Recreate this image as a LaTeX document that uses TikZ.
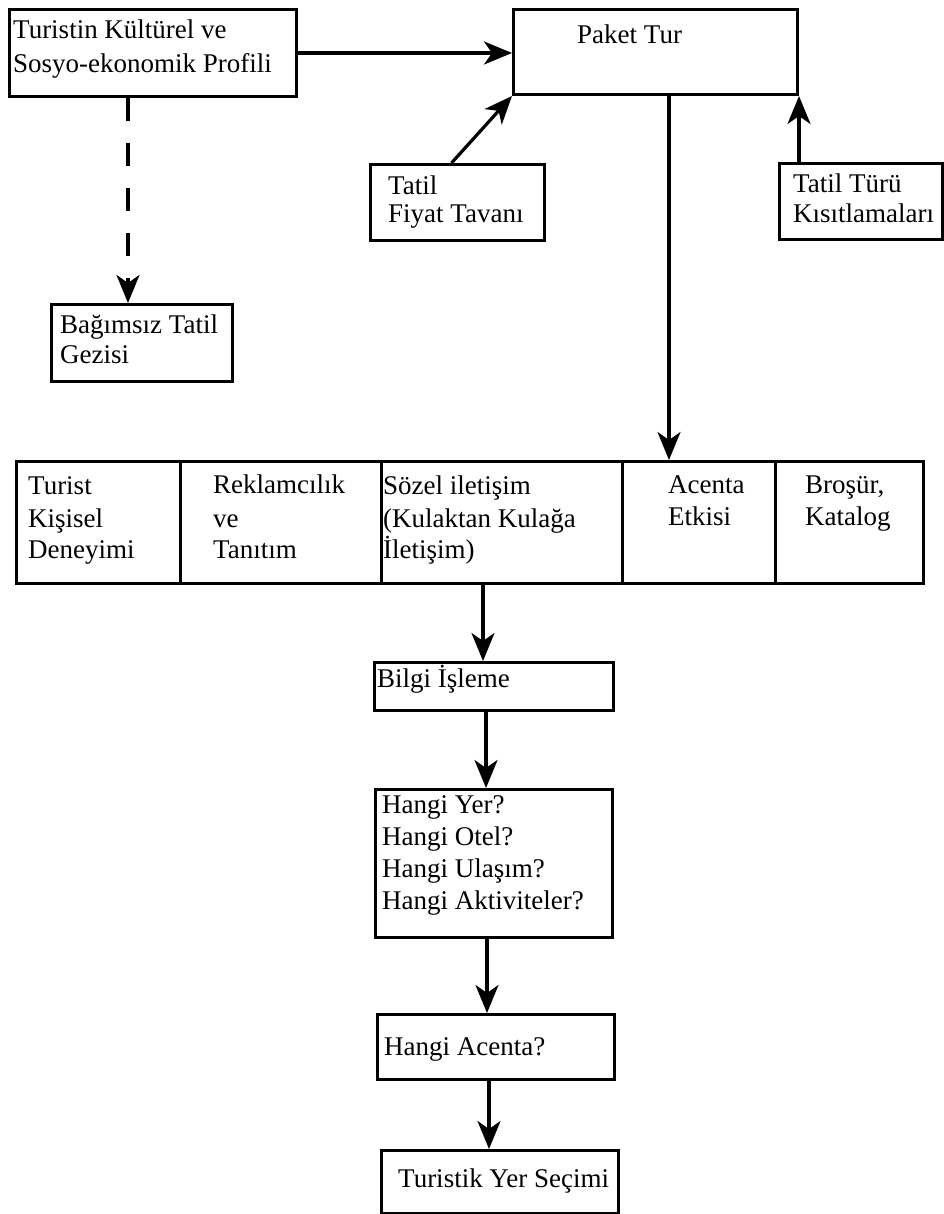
\documentclass[tikz,border=0pt]{standalone}
\usepackage{fontspec}
\setmainfont{Liberation Serif}
\usetikzlibrary{arrows.meta}
\begin{document}
\begin{tikzpicture}[x=1pt,y=-1pt,
  box/.style={draw, line width=3pt, inner sep=0pt, anchor=north west},
  lbl/.style={anchor=base west, inner sep=0pt, font=\fontsize{27}{32}\selectfont},
  conn/.style={line width=3.2pt, -{Stealth[length=28pt,width=23pt,inset=8pt]}},
  dashconn/.style={conn, dash pattern=on 23pt off 22pt}]
\useasboundingbox (0,0) rectangle (943,1214);

% boxes
\node[box, minimum width=287pt, minimum height=87pt] (prof) at (8,8) {};
\node[box, minimum width=284pt, minimum height=85pt] (paket) at (512,8) {};
\node[box, minimum width=174pt, minimum height=76pt] (fiyat) at (369,163) {};
\node[box, minimum width=163pt, minimum height=76pt] (turu) at (778,162) {};
\node[box, minimum width=181pt, minimum height=77pt] (bag) at (50,303) {};
\node[box, minimum width=164pt, minimum height=122pt] (c1) at (15,460) {};
\node[box, minimum width=201pt, minimum height=122pt] (c2) at (179,460) {};
\node[box, minimum width=241pt, minimum height=122pt] (c3) at (380,460) {};
\node[box, minimum width=153pt, minimum height=122pt] (c4) at (621,460) {};
\node[box, minimum width=148pt, minimum height=122pt] (c5) at (774,460) {};
\node[box, minimum width=239pt, minimum height=48pt] (bilgi) at (373,661) {};
\node[box, minimum width=237pt, minimum height=148pt] (hangi) at (374,788) {};
\node[box, minimum width=237pt, minimum height=65pt] (acenta) at (376,1013) {};
\node[box, minimum width=237pt, minimum height=63pt] (secim) at (380,1149) {};

% texts
\node[lbl] (t1a) at (13,39) {Turistin Kültürel ve};
\node[lbl] (t1b) at (13,73) {Sosyo-ekonomik Profili};
\node[lbl] (t2) at (577,44) {Paket Tur};
\node[lbl] (t3a) at (388,195) {Tatil};
\node[lbl] (t3b) at (388,223) {Fiyat Tavanı};
\node[lbl] (t4a) at (793,193) {Tatil Türü};
\node[lbl] (t4b) at (793,223) {Kısıtlamaları};
\node[lbl] (t5a) at (60,333) {Bağımsız Tatil};
\node[lbl] (t5b) at (60,363) {Gezisi};
\node[lbl] (t6a) at (28,494) {Turist};
\node[lbl] (t6b) at (28,527) {Kişisel};
\node[lbl] (t6c) at (28,558) {Deneyimi};
\node[lbl] (t7a) at (213,493) {Reklamcılık};
\node[lbl] (t7b) at (213,527) {ve};
\node[lbl] (t7c) at (213,558) {Tanıtım};
\node[lbl] (t8a) at (383,494) {Sözel iletişim};
\node[lbl] (t8b) at (383,527) {(Kulaktan Kulağa};
\node[lbl] (t8c) at (383,558) {İletişim)};
\node[lbl] (t9a) at (668,493) {Acenta};
\node[lbl] (t9b) at (668,525) {Etkisi};
\node[lbl] (t10a) at (805,493) {Broşür,};
\node[lbl] (t10b) at (805,525) {Katalog};
\node[lbl] (t11) at (377,687) {Bilgi İşleme};
\node[lbl] (t12a) at (382,813) {Hangi Yer?};
\node[lbl] (t12b) at (382,845) {Hangi Otel?};
\node[lbl] (t12c) at (382,877) {Hangi Ulaşım?};
\node[lbl] (t12d) at (382,909) {Hangi Aktiviteler?};
\node[lbl] (t13) at (384,1055) {Hangi Acenta?};
\node[lbl] (t14) at (398,1187) {Turistik Yer Seçimi};

% connectors
\coordinate (bagin) at (128,303);
\draw[conn] (prof.east) -- (prof.east -| paket.west);
\draw[dashconn] (prof.south -| bagin) -- (bagin);
\draw[conn] ([xshift=-6pt]fiyat.north) -- (paket.south west);
\draw[conn] (turu.north -| paket.south east) -- (paket.south east);
\coordinate (barin) at (669,460);
\draw[conn] (paket.south -| barin) -- (barin);
\draw[conn] (c3.south -| 483,0) -- (bilgi.north -| 483,0);
\draw[conn] ([xshift=-8pt]bilgi.south) -- ([xshift=-8pt]bilgi.south |- hangi.north);
\draw[conn] ([xshift=-7pt]hangi.south) -- ([xshift=-7pt]hangi.south |- acenta.north);
\draw[conn] ([xshift=-7pt]acenta.south) -- ([xshift=-7pt]acenta.south |- secim.north);
\end{tikzpicture}
\end{document}
